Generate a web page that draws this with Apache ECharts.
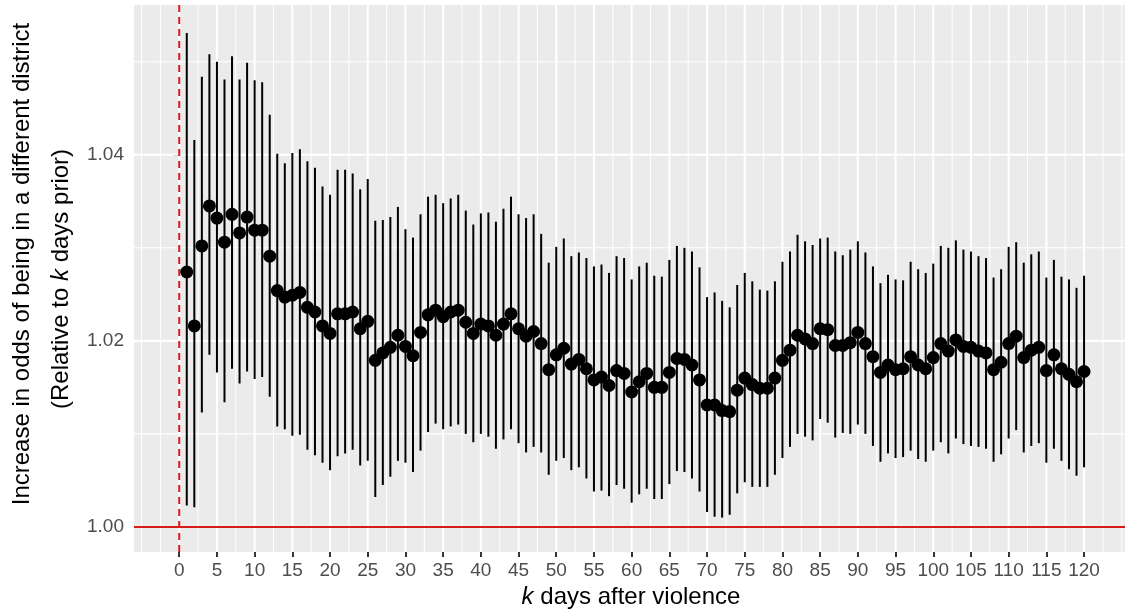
<!DOCTYPE html>
<html><head><meta charset="utf-8">
<script src="https://cdn.jsdelivr.net/npm/echarts@6/dist/echarts.min.js"></script>
<style>html,body{margin:0;padding:0;background:#fff}#c{width:1125px;height:614px}</style>
</head><body><div id="c"></div>
<script>
// ---- data ----
const days = Array.from({length: 120}, (_, i) => i + 1);
const estimate = [
1.0274, 1.0216, 1.0302, 1.0345, 1.0332, 1.0306, 1.0336, 1.0316, 1.0333, 1.0319,
1.0319, 1.0291, 1.0254, 1.0247, 1.0249, 1.0252, 1.0236, 1.0231, 1.0216, 1.0208,
1.0229, 1.0229, 1.0231, 1.0213, 1.0221, 1.0179, 1.0187, 1.0193, 1.0206, 1.0194,
1.0184, 1.0209, 1.0228, 1.0233, 1.0226, 1.0231, 1.0233, 1.0220, 1.0208, 1.0218,
1.0216, 1.0206, 1.0218, 1.0229, 1.0213, 1.0205, 1.0210, 1.0197, 1.0169, 1.0185,
1.0192, 1.0175, 1.0180, 1.0170, 1.0158, 1.0161, 1.0152, 1.0168, 1.0165, 1.0145,
1.0156, 1.0165, 1.0150, 1.0150, 1.0166, 1.0181, 1.0180, 1.0174, 1.0158, 1.0131,
1.0131, 1.0125, 1.0124, 1.0147, 1.0160, 1.0153, 1.0149, 1.0149, 1.0160, 1.0179,
1.0190, 1.0206, 1.0202, 1.0197, 1.0213, 1.0212, 1.0195, 1.0195, 1.0198, 1.0209,
1.0197, 1.0183, 1.0166, 1.0174, 1.0169, 1.0170, 1.0183, 1.0174, 1.0170, 1.0182,
1.0197, 1.0189, 1.0201, 1.0194, 1.0193, 1.0189, 1.0187, 1.0169, 1.0177, 1.0197,
1.0205, 1.0182, 1.0190, 1.0193, 1.0168, 1.0185, 1.0170, 1.0164, 1.0156, 1.0167
];
const upper = [
1.0531, 1.0416, 1.0484, 1.0508, 1.0500, 1.0481, 1.0506, 1.0481, 1.0499, 1.0480,
1.0478, 1.0443, 1.0401, 1.0391, 1.0402, 1.0406, 1.0393, 1.0386, 1.0366, 1.0357,
1.0384, 1.0384, 1.0380, 1.0363, 1.0374, 1.0329, 1.0330, 1.0333, 1.0344, 1.0320,
1.0311, 1.0336, 1.0355, 1.0357, 1.0348, 1.0353, 1.0357, 1.0340, 1.0325, 1.0337,
1.0338, 1.0328, 1.0342, 1.0355, 1.0336, 1.0332, 1.0336, 1.0315, 1.0284, 1.0301,
1.0310, 1.0291, 1.0295, 1.0289, 1.0280, 1.0282, 1.0273, 1.0291, 1.0289, 1.0266,
1.0280, 1.0284, 1.0270, 1.0269, 1.0287, 1.0302, 1.0300, 1.0296, 1.0279, 1.0247,
1.0252, 1.0243, 1.0236, 1.0260, 1.0273, 1.0264, 1.0255, 1.0254, 1.0264, 1.0285,
1.0296, 1.0314, 1.0307, 1.0303, 1.0310, 1.0311, 1.0296, 1.0292, 1.0298, 1.0307,
1.0295, 1.0280, 1.0262, 1.0271, 1.0266, 1.0265, 1.0285, 1.0277, 1.0273, 1.0283,
1.0302, 1.0300, 1.0308, 1.0298, 1.0296, 1.0291, 1.0289, 1.0268, 1.0277, 1.0301,
1.0306, 1.0284, 1.0293, 1.0296, 1.0268, 1.0287, 1.0269, 1.0266, 1.0257, 1.0270
];
const lower = [
1.0023, 1.0021, 1.0123, 1.0185, 1.0166, 1.0134, 1.0170, 1.0154, 1.0167, 1.0159,
1.0161, 1.0140, 1.0108, 1.0105, 1.0098, 1.0099, 1.0083, 1.0077, 1.0069, 1.0061,
1.0076, 1.0079, 1.0083, 1.0066, 1.0071, 1.0032, 1.0045, 1.0054, 1.0071, 1.0069,
1.0059, 1.0082, 1.0102, 1.0111, 1.0105, 1.0108, 1.0110, 1.0100, 1.0091, 1.0100,
1.0097, 1.0084, 1.0094, 1.0105, 1.0090, 1.0080, 1.0086, 1.0080, 1.0056, 1.0071,
1.0074, 1.0061, 1.0064, 1.0052, 1.0038, 1.0039, 1.0033, 1.0045, 1.0041, 1.0026,
1.0035, 1.0041, 1.0030, 1.0030, 1.0046, 1.0060, 1.0059, 1.0052, 1.0038, 1.0016,
1.0011, 1.0010, 1.0013, 1.0036, 1.0048, 1.0043, 1.0043, 1.0043, 1.0056, 1.0074,
1.0086, 1.0100, 1.0097, 1.0093, 1.0116, 1.0112, 1.0096, 1.0101, 1.0100, 1.0110,
1.0100, 1.0087, 1.0070, 1.0079, 1.0074, 1.0075, 1.0082, 1.0073, 1.0070, 1.0082,
1.0091, 1.0079, 1.0095, 1.0089, 1.0087, 1.0086, 1.0084, 1.0070, 1.0078, 1.0095,
1.0104, 1.0080, 1.0087, 1.0090, 1.0069, 1.0084, 1.0071, 1.0062, 1.0055, 1.0064
];
const xTicks = [0, 5, 10, 15, 20, 25, 30, 35, 40, 45, 50, 55, 60, 65, 70, 75, 80, 85, 90, 95, 100, 105, 110, 115, 120];
const xMinor = [-5, -2.5, 2.5, 7.5, 12.5, 17.5, 22.5, 27.5, 32.5, 37.5, 42.5, 47.5, 52.5, 57.5, 62.5, 67.5, 72.5, 77.5, 82.5, 87.5, 92.5, 97.5, 102.5, 107.5, 112.5, 117.5, 122.5, 125];
const yTicks = [1.00, 1.02, 1.04];
const yMinor = [1.01, 1.03, 1.05];
const refY = 1.00;   // horizontal reference line
const refX = 0;      // vertical dashed line

// ---- chart ----
const FONT = '"Liberation Sans", Arial, Helvetica, sans-serif';
const chart = echarts.init(document.getElementById('c'), null, {renderer: 'canvas'});

const gridData = [];
xTicks.forEach(v => gridData.push([v, 1.02, 0]));
xMinor.forEach(v => gridData.push([v, 1.02, 1]));
yTicks.forEach(v => gridData.push([0, v, 2]));
yMinor.forEach(v => gridData.push([0, v, 3]));

const barData = days.map((d, i) => [d, lower[i], upper[i]]);
const pointData = days.map((d, i) => [d, estimate[i]]);

chart.setOption({
  animation: false,
  backgroundColor: '#ffffff',
  grid: {
    left: 134, right: 0, top: 5, bottom: 62,
    show: true, backgroundColor: '#EBEBEB', borderWidth: 0,
    containLabel: false, outerBoundsMode: 'none'
  },
  xAxis: {
    type: 'value', min: -6, max: 125.43,
    splitLine: {show: false}, axisLine: {show: false},
    axisTick: {show: true, customValues: xTicks, length: 5, lineStyle: {color: '#333333', width: 2}},
    axisLabel: {customValues: xTicks, color: '#4D4D4D', fontSize: 19, fontFamily: FONT, margin: 9}
  },
  yAxis: {
    type: 'value', min: 0.9973, max: 1.0561,
    splitLine: {show: false}, axisLine: {show: false},
    axisTick: {show: true, customValues: yTicks, length: 5, lineStyle: {color: '#333333', width: 2}},
    axisLabel: {customValues: yTicks, color: '#4D4D4D', fontSize: 19, fontFamily: FONT, margin: 10,
      formatter: v => Number(v).toFixed(2)}
  },
  graphic: [
    {type: 'text', x: 631, y: 597, style: {
      text: '{i|k} days after violence', fill: '#000', fontSize: 24, fontFamily: FONT,
      align: 'center', verticalAlign: 'middle',
      rich: {i: {fontStyle: 'italic', fontSize: 24, fontFamily: FONT, fill: '#000'}}}},
    {type: 'text', x: 22, y: 264, rotation: Math.PI / 2, style: {
      text: 'Increase in odds of being in a different district', fill: '#000', fontSize: 24, fontFamily: FONT,
      align: 'center', verticalAlign: 'middle'}},
    {type: 'text', x: 61, y: 279, rotation: Math.PI / 2, style: {
      text: '(Relative to {i|k} days prior)', fill: '#000', fontSize: 24, fontFamily: FONT,
      align: 'center', verticalAlign: 'middle',
      rich: {i: {fontStyle: 'italic', fontSize: 24, fontFamily: FONT, fill: '#000'}}}}
  ],
  series: [
    {
      type: 'custom', name: 'gridlines', z: 1, silent: true, data: gridData,
      renderItem: (params, api) => {
        const cs = params.coordSys;
        const kind = api.value(2);
        const p = api.coord([api.value(0), api.value(1)]);
        const w = (kind === 0 || kind === 2) ? 2.1 : 1.05;
        const shape = kind < 2
          ? {x1: p[0], y1: cs.y, x2: p[0], y2: cs.y + cs.height}
          : {x1: cs.x, y1: p[1], x2: cs.x + cs.width, y2: p[1]};
        return {type: 'line', shape, style: {stroke: '#FFFFFF', lineWidth: w}};
      }
    },
    {
      type: 'custom', name: 'reference', z: 2, silent: true,
      data: [[refX, refY, 0], [refX, refY, 1]],
      renderItem: (params, api) => {
        const cs = params.coordSys;
        const p = api.coord([api.value(0), api.value(1)]);
        if (api.value(2) === 0) {
          return {type: 'line', shape: {x1: p[0], y1: cs.y, x2: p[0], y2: cs.y + cs.height},
            style: {stroke: '#D71A1A', lineWidth: 2, lineDash: [7, 5]}};
        }
        return {type: 'line', shape: {x1: cs.x, y1: p[1], x2: cs.x + cs.width, y2: p[1]},
          style: {stroke: '#D71A1A', lineWidth: 2}};
      }
    },
    {
      type: 'custom', name: 'interval', z: 3, silent: true, data: barData,
      renderItem: (params, api) => {
        const a = api.coord([api.value(0), api.value(1)]);
        const b = api.coord([api.value(0), api.value(2)]);
        return {type: 'line', shape: {x1: a[0], y1: a[1], x2: b[0], y2: b[1]},
          style: {stroke: '#000000', lineWidth: 2}};
      }
    },
    {
      type: 'scatter', name: 'estimate', z: 4, data: pointData, silent: true,
      symbol: 'circle', symbolSize: 13, itemStyle: {color: '#000000', opacity: 1}
    }
  ]
});
</script></body></html>
